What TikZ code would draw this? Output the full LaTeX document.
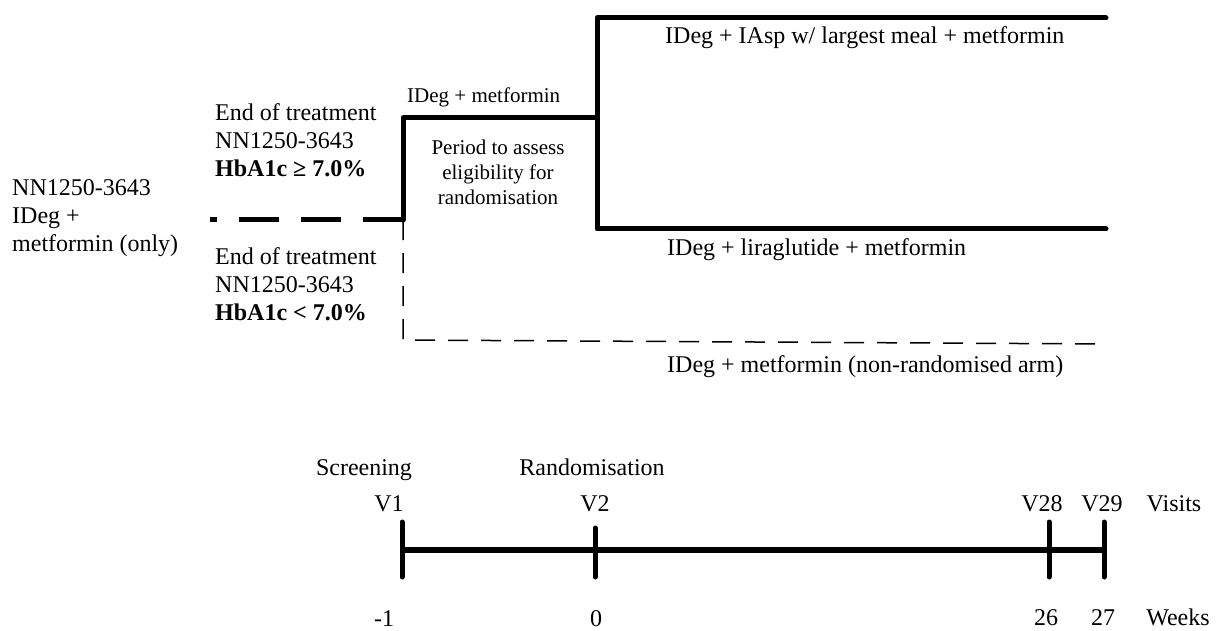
\documentclass[tikz,border=0pt]{standalone}
\usepackage{fontspec}
\setmainfont{Liberation Serif}
\begin{document}
\begin{tikzpicture}[x=1pt,y=-1pt,
  txt/.style={inner sep=0pt, font=\fontsize{24}{28}\selectfont, align=left},
  lbl/.style={inner sep=0pt, font=\fontsize{24}{28}\selectfont, anchor=base},
  smalltxt/.style={inner sep=0pt, font=\fontsize{21}{25}\selectfont, align=center},
  armline/.style={line width=5pt, line join=round, line cap=round},
  thickdash/.style={line width=5pt, dash pattern=on 40pt off 22pt},
  thindash/.style={line width=1.5pt, dash pattern=on 20pt off 13pt},
  axisline/.style={line width=6pt},
  tick/.style={line width=5pt, line cap=round}]
\useasboundingbox (0,0) rectangle (1218,631);

% coordinates of the arms
\coordinate (start) at (210,220);
\coordinate (split) at (403,220);
\coordinate (runin) at (403,118);
\coordinate (rand) at (597,118);
\coordinate (randtop) at (597,18);
\coordinate (randbot) at (597,229);
\coordinate (armAend) at (1106,18);
\coordinate (armBend) at (1106,229);
\coordinate (nrcorner) at (403,340);
\coordinate (nrend) at (1106,344);

% arms
\draw[thickdash] (split) -- (start);
\draw[armline] (split) -- (runin) -- (rand);
\draw[armline] (armAend) -- (randtop) -- (randbot) -- (armBend);
\draw[thindash] (split) -- (nrcorner) -- (nrend);

% labels
\node[txt, anchor=west] (prev) at (12,218) {NN1250-3643\\IDeg +\\metformin (only)};
\node[txt, anchor=west] (hi) at (215,140) {End of treatment\\NN1250-3643\\\textbf{HbA1c ≥ 7.0\%}};
\node[txt, anchor=west] (lo) at (215,284) {End of treatment\\NN1250-3643\\\textbf{HbA1c < 7.0\%}};
\node[smalltxt, anchor=west] (runlbl) at (407,97) {IDeg + metformin};
\node[smalltxt] (period) at (498,172) {Period to assess\\eligibility for\\randomisation};
\node[txt, anchor=west] (armA) at (665,38) {IDeg + IAsp w/ largest meal + metformin};
\node[txt, anchor=west] (armB) at (667,250) {IDeg + liraglutide + metformin};
\node[txt, anchor=west] (armC) at (667,367) {IDeg + metformin (non-randomised arm)};

% timeline
\coordinate (t1) at (402,550);
\coordinate (t2) at (595,550);
\coordinate (t28) at (1049,550);
\coordinate (t29) at (1104,550);
\draw[axisline] (t1) -- (t29);
\draw[tick] (402,522) -- (402,577);
\draw[tick] (595,528) -- (595,577);
\draw[tick] (1049,522) -- (1049,577);
\draw[tick] (1104,522) -- (1104,577);

\node[lbl] (scr) at (364,475) {Screening};
\node[lbl] (rnd) at (592,475) {Randomisation};
\node[lbl] (v1) at (389,511) {V1};
\node[lbl] (v2) at (595,511) {V2};
\node[lbl] (v28) at (1042,511) {V28};
\node[lbl] (v29) at (1102,511) {V29};
\node[lbl] (visits) at (1174,511) {Visits};
\node[lbl] (w1) at (384,626) {-1};
\node[lbl] (w0) at (596,626) {0};
\node[lbl] (w26) at (1046,625) {26};
\node[lbl] (w27) at (1103,625) {27};
\node[lbl] (weeks) at (1178,625) {Weeks};
\end{tikzpicture}
\end{document}
